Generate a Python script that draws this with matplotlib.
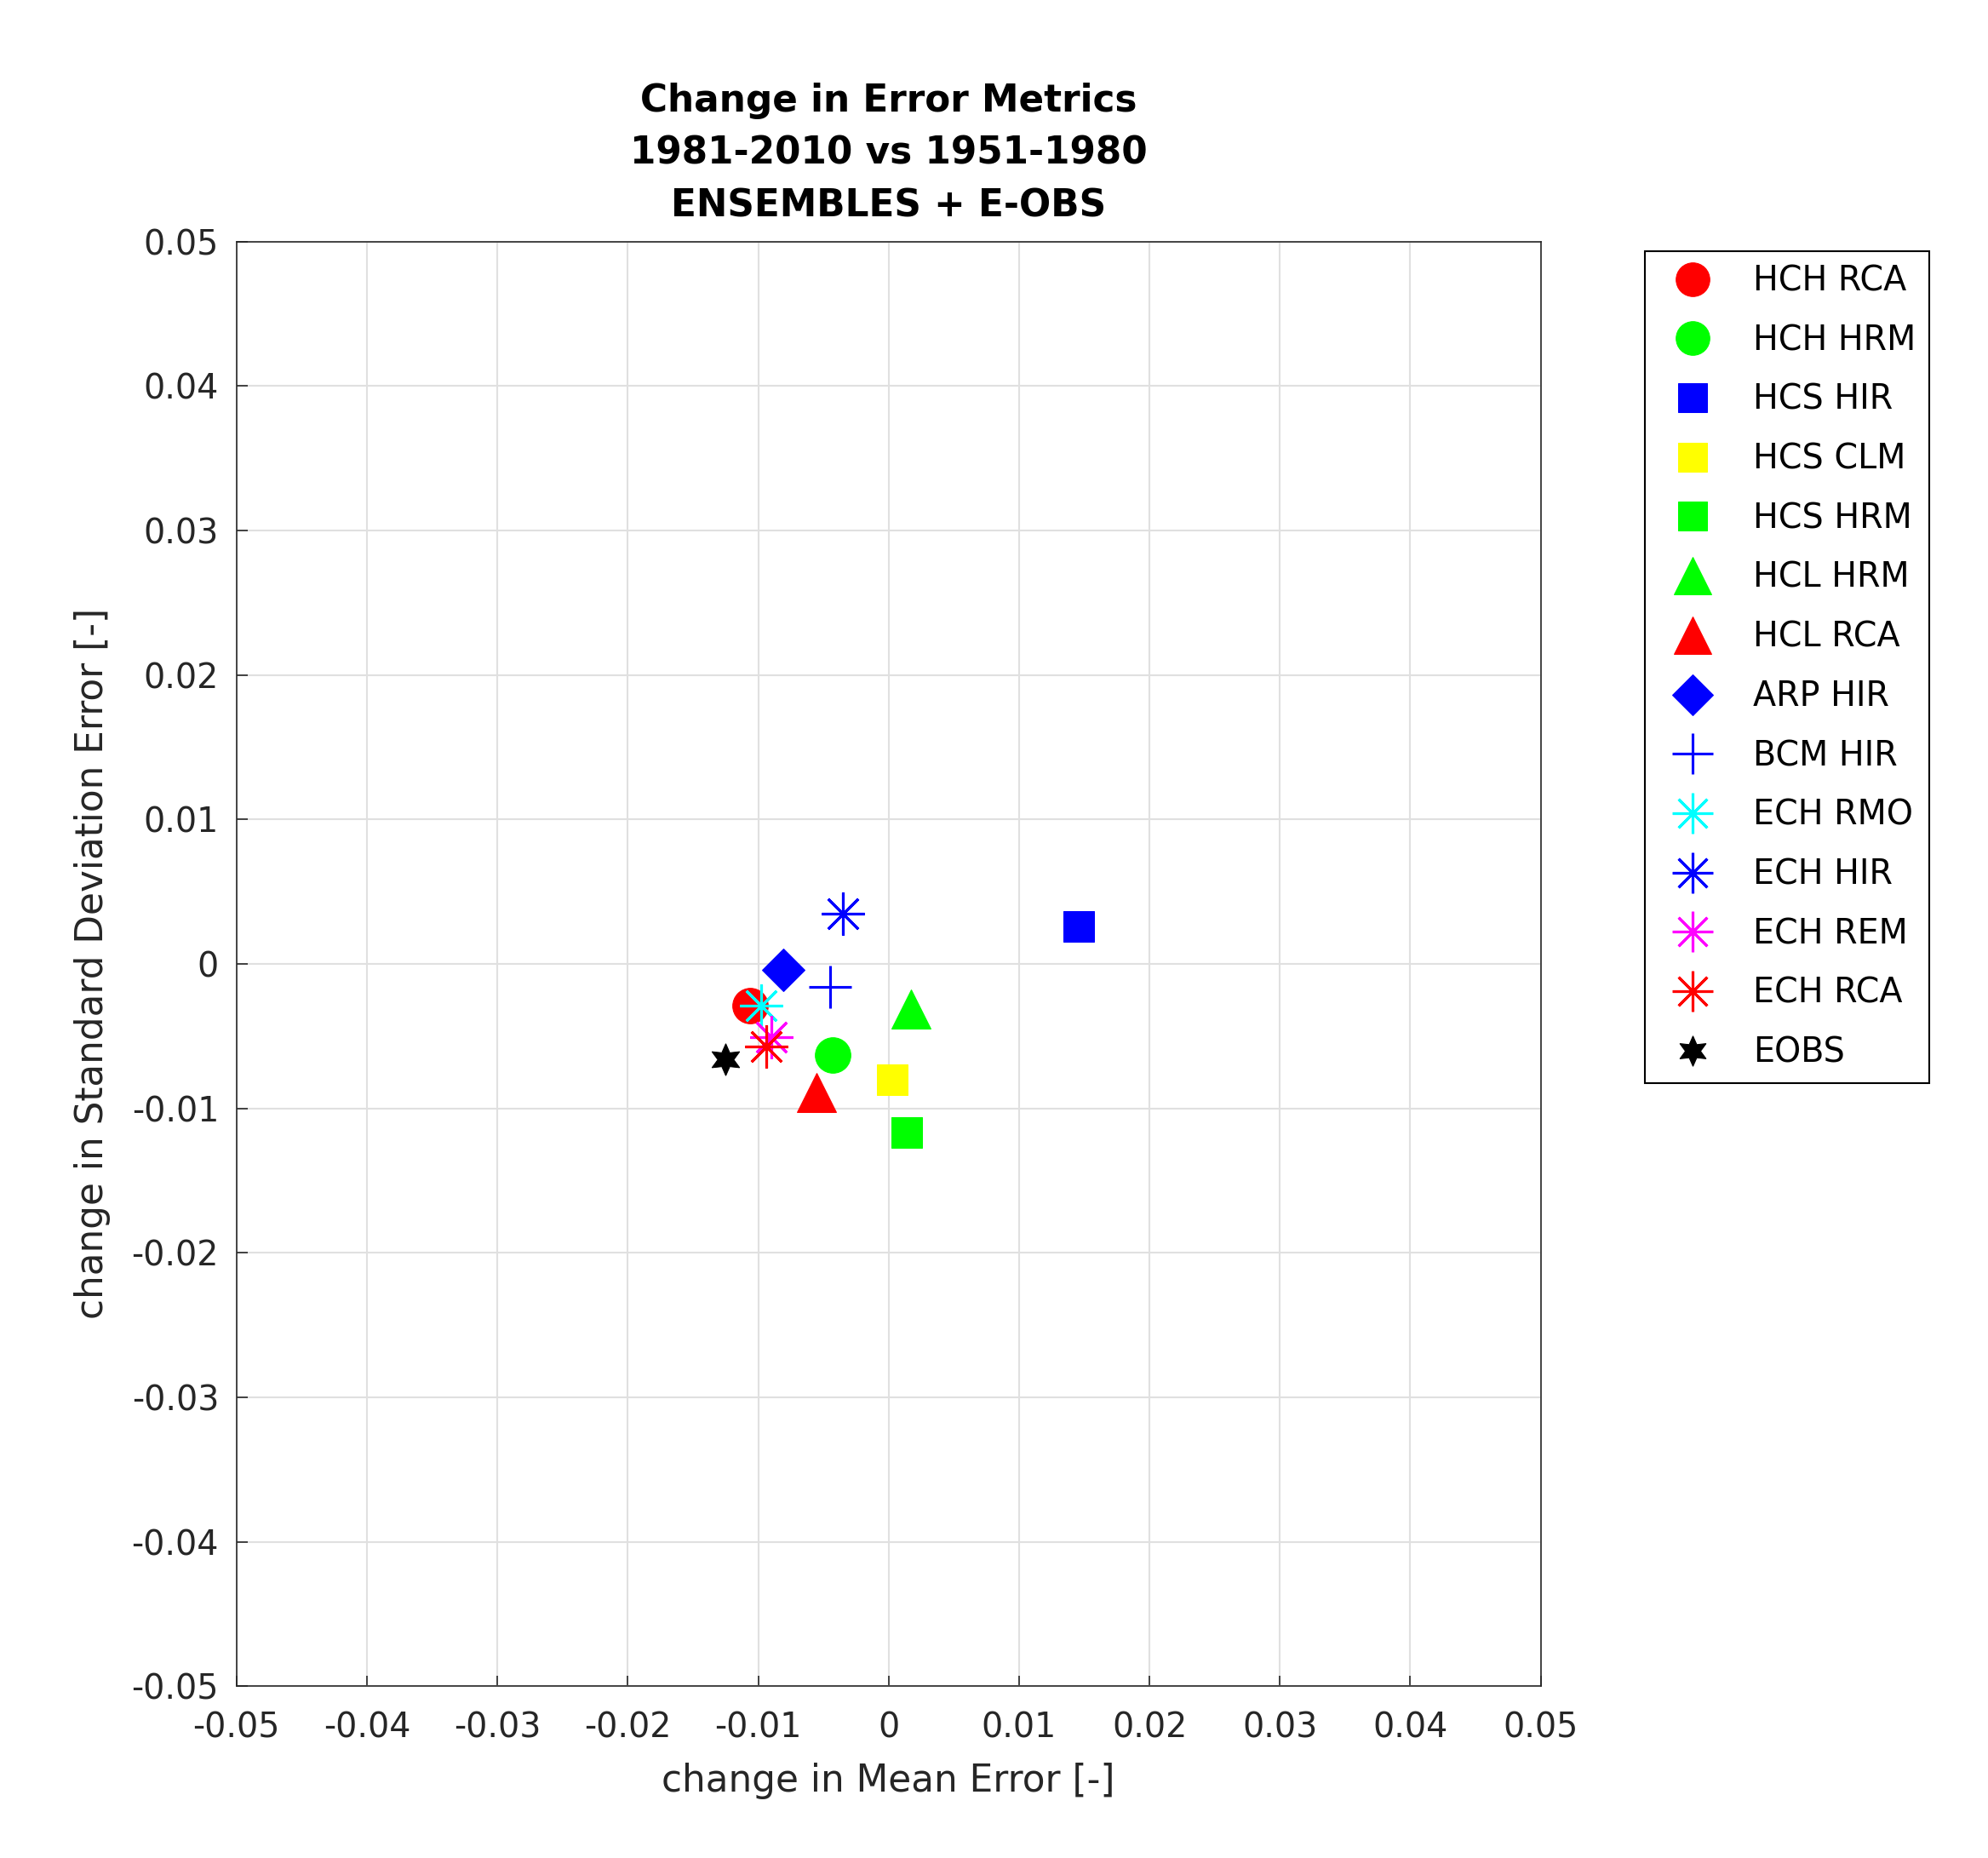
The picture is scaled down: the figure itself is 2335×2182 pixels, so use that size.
import matplotlib.pyplot as plt

labels = ["HCH RCA", "HCH HRM", "HCS HIR", "HCS CLM", "HCS HRM", "HCL HRM", "HCL RCA",
          "ARP HIR", "BCM HIR", "ECH RMO", "ECH HIR", "ECH REM", "ECH RCA", "EOBS"]
mean_err = [-0.0106, -0.0043, 0.0146, 0.0003, 0.0014, 0.0017, -0.0055,
            -0.0081, -0.0045, -0.0098, -0.0035, -0.0090, -0.0094, -0.0125]
std_err = [-0.0029, -0.0063, 0.0026, -0.0080, -0.0117, -0.0031, -0.0089,
           -0.0004, -0.0016, -0.0029, 0.0035, -0.0051, -0.0057, -0.0066]
colors = ["#ff0000", "#00ff00", "#0000ff", "#ffff00", "#00ff00", "#00ff00", "#ff0000",
          "#0000ff", "#0000ff", "#00ffff", "#0000ff", "#ff00ff", "#ff0000", "#000000"]
markers = ["o", "o", "s", "s", "s", "^", "^", "D", "+", (8, 2, 0), (8, 2, 0),
           (8, 2, 0), (8, 2, 0), (6, 1, 0)]
sizes = [20, 20, 17, 17, 17, 22, 22, 17, 24, 24, 24, 24, 24, 18]

fig = plt.figure(figsize=(2335 / 150, 2182 / 150), dpi=150, facecolor="white")
ax = fig.add_axes([0.119, 0.0925, 0.656, 0.7775])

for x, y, c, m, s, lab in zip(mean_err, std_err, colors, markers, sizes, labels):
    line_marker = m in ("+",) or isinstance(m, tuple) and m[1] == 2
    ax.plot(x, y, linestyle="none", marker=m, markersize=s, color=c,
            markerfacecolor=c, markeredgecolor=c,
            markeredgewidth=1.5 if line_marker else 0.5, label=lab)

ax.set_xlim(-0.05, 0.05)
ax.set_ylim(-0.05, 0.05)
ticks = [-0.05, -0.04, -0.03, -0.02, -0.01, 0, 0.01, 0.02, 0.03, 0.04, 0.05]
ticklabels = ["-0.05", "-0.04", "-0.03", "-0.02", "-0.01", "0", "0.01", "0.02", "0.03", "0.04", "0.05"]
ax.set_xticks(ticks)
ax.set_xticklabels(ticklabels)
ax.set_yticks(ticks)
ax.set_yticklabels(ticklabels)
ax.tick_params(labelsize=19, direction="in", length=6, color="#262626", labelcolor="#262626")
ax.tick_params(axis="x", pad=14)
ax.tick_params(axis="y", pad=10)
ax.grid(color="#e0e0e0", linewidth=1)
ax.set_axisbelow(True)
for sp in ax.spines.values():
    sp.set_color("#262626")

ax.set_xlabel("change in Mean Error [-]", fontsize=21, color="#262626", labelpad=10)
ax.set_ylabel("change in Standard Deviation Error [-]", fontsize=21, color="#262626", labelpad=12)
ax.set_title("Change in Error Metrics\n1981-2010 vs 1951-1980\nENSEMBLES + E-OBS",
             fontsize=21, fontweight="bold", linespacing=1.55, pad=14)

fig.legend(loc="upper left", bbox_to_anchor=(0.819, 0.874), fontsize=19,
           frameon=True, fancybox=False, edgecolor="black", framealpha=1,
           labelspacing=0.75, handletextpad=0.8, borderpad=0.4, markerscale=0.95)

fig.savefig("out.png", dpi=150)
